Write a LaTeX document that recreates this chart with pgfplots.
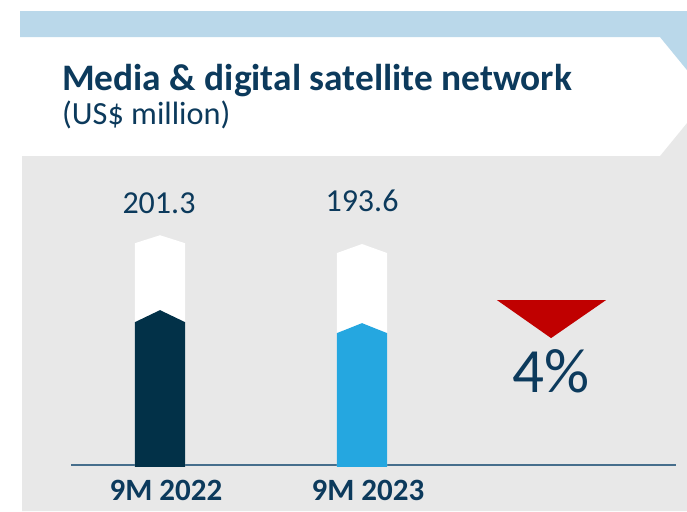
\documentclass[border=0pt]{standalone}
\usepackage{pgfplots}
\pgfplotsset{compat=1.18}
\usepackage{fontspec}
\setmainfont{Carlito}
\definecolor{navy}{RGB}{12,58,92}
\definecolor{darkbar}{RGB}{2,49,72}
\definecolor{lightbar}{RGB}{37,167,224}
\definecolor{bannerblue}{RGB}{186,216,234}
\definecolor{panelgray}{RGB}{232,232,232}
\definecolor{axisline}{RGB}{70,110,140}
\definecolor{downred}{RGB}{192,0,0}
\begin{document}
\begin{tikzpicture}
% background decoration, in pixel-like units (1pt = 1px), y downwards
\begin{scope}[x=1pt,y=-1pt,yshift=511pt]
\fill[white] (0,0) rectangle (687,511);
\fill[bannerblue] (20,11) -- (687,11) -- (687,70) -- (660,37) -- (20,37) -- cycle;
\fill[panelgray] (22,156) -- (660,156) -- (687,123) -- (687,511) -- (22,511) -- cycle;
\node[anchor=base west, inner sep=0pt, text=navy, font=\bfseries\fontsize{37.4}{40}\selectfont] at (62,90) {Media \& digital satellite network};
\node[anchor=base west, inner sep=0pt, text=navy, font=\fontsize{32.3}{34}\selectfont] at (62,124) {(US\$ million)};
\end{scope}
\begin{axis}[
  at={(0,0)}, anchor=south west,
  width=687pt, height=511pt, scale only axis,
  xmin=-0.79208, xmax=2.60891, ymin=-40.28, ymax=407.18,
  clip=false,
  axis line style={draw=none},
  major tick length=0pt,
  ytick=\empty,
  xtick={0,1},
  xticklabels={9M 2022, 9M 2023},
  xticklabel style={font=\bfseries\fontsize{31}{31}\selectfont, text=navy, anchor=base, yshift=11pt, xshift=6pt},
]
% baseline
\addplot[color=axisline, line width=2pt, mark=none] coordinates {(-0.4406,0) (2.554,0)};
% white tubes (height = value)
\addplot[fill=white, draw=none, mark=none] coordinates {(-0.1238,-1.5) (-0.1238,194.3) (0,201.3) (0.1238,194.3) (0.1238,-1.5)} -- cycle;
\addplot[fill=white, draw=none, mark=none] coordinates {(0.8762,-1.5) (0.8762,185.7) (1,193.6) (1.1238,185.7) (1.1238,-1.5)} -- cycle;
% coloured fills
\addplot[fill=darkbar, draw=none, mark=none] coordinates {(-0.1238,-1.5) (-0.1238,125.2) (0,135.7) (0.1238,125.2) (0.1238,-1.5)} -- cycle;
\addplot[fill=lightbar, draw=none, mark=none] coordinates {(0.8762,-1.5) (0.8762,115.6) (1,124.3) (1.1238,115.6) (1.1238,-1.5)} -- cycle;
% value labels
\addplot[draw=none, mark=none, nodes near coords, point meta=explicit symbolic,
  every node near coord/.append style={anchor=center, text=navy, font=\fontsize{32}{32}\selectfont}]
  coordinates {(-0.005,229.4)[201.3] (1.0,231.2)[193.6]};
% change indicator
\addplot[fill=downred, draw=none, mark=none] coordinates {(1.668,144.5) (2.208,144.5) (1.936,111.2)} -- cycle;
\node[anchor=base, inner sep=0pt, text=navy, font=\fontsize{63}{63}\selectfont] at (axis cs:1.934,63.9) {4\%};
\end{axis}
\end{tikzpicture}
\end{document}
